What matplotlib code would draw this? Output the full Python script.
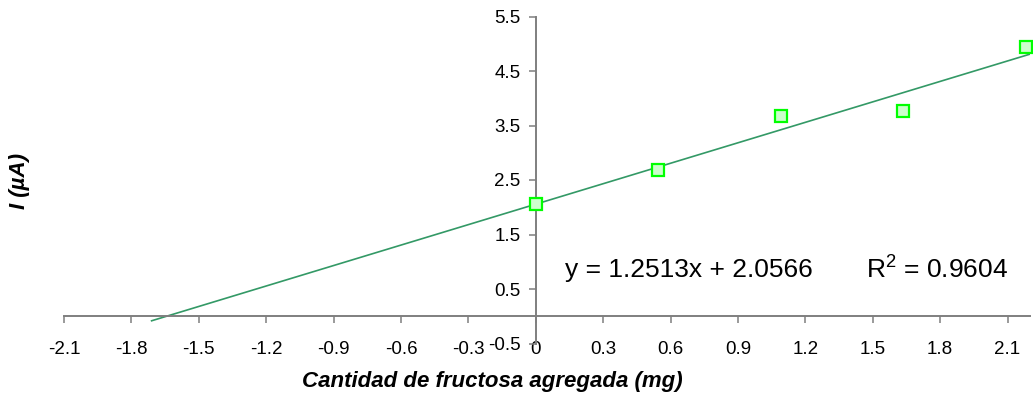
import matplotlib
matplotlib.use("Agg")
import matplotlib.pyplot as plt
import numpy as np

plt.rcParams['font.family'] = ['Liberation Sans', 'DejaVu Sans']
plt.rcParams['mathtext.fontset'] = 'custom'
plt.rcParams['mathtext.rm'] = 'Liberation Sans'

# Added fructose (mg) and measured current (µA)
fructose_mg = [0.0, 0.545, 1.09, 1.635, 2.18]
current_uA = [2.055, 2.68, 3.67, 3.77, 4.94]

# Linear trendline reported for the series
slope = 1.2513
intercept = 2.0566
r_squared = 0.9604
trend_start, trend_end = -1.71, 2.2

x_ticks = [-2.1, -1.8, -1.5, -1.2, -0.9, -0.6, -0.3, 0, 0.3, 0.6, 0.9, 1.2, 1.5, 1.8, 2.1]
x_tick_labels = ['-2.1', '-1.8', '-1.5', '-1.2', '-0.9', '-0.6', '-0.3', '0',
                 '0.3', '0.6', '0.9', '1.2', '1.5', '1.8', '2.1']
y_ticks = [-0.5, 0.5, 1.5, 2.5, 3.5, 4.5, 5.5]
y_tick_labels = ['-0.5', '0.5', '1.5', '2.5', '3.5', '4.5', '5.5']

W, H = 1033, 401
fig = plt.figure(figsize=(W / 100, H / 100), dpi=100)
ax = fig.add_axes([64 / W, (H - 343.5) / H, 966 / W, 327 / H])

ax.set_xlim(-2.1, 2.2)
ax.set_ylim(-0.5, 5.5)

axis_grey = '#7f7f7f'
for side in ('top', 'right'):
    ax.spines[side].set_visible(False)
ax.spines['left'].set_position(('data', 0))
ax.spines['bottom'].set_position(('data', 0))
for side in ('left', 'bottom'):
    ax.spines[side].set_color(axis_grey)
    ax.spines[side].set_linewidth(1.4)

ax.set_xticks(x_ticks)
ax.set_xticklabels(x_tick_labels)
ax.set_yticks(y_ticks)
ax.set_yticklabels(y_tick_labels)
ax.tick_params(axis='x', direction='out', length=5, width=1.1, color=axis_grey,
               pad=13, labelsize=13.5)
ax.tick_params(axis='y', direction='out', length=5, width=1.1, color=axis_grey,
               pad=6, labelsize=13.5)

# Trendline
tx = np.array([trend_start, trend_end])
ax.plot(tx, slope * tx + intercept, color='#339966', lw=1.2, zorder=2)

# Measured points
ax.plot(fructose_mg, current_uA, linestyle='none', marker='s', markersize=8.5,
        markerfacecolor='#CCFFCC', markeredgecolor='#00FF00', markeredgewidth=1.6,
        clip_on=False, zorder=3)

ax.text(0.129, 0.844, f'y = {slope:.4f}x + {intercept:.4f}', fontsize=19,
        ha='left', va='center')
ax.text(1.469, 0.844, r'R$\mathregular{^2}$' + f' = {r_squared:.4f}', fontsize=19,
        ha='left', va='center')

fig.text(20 / W, 1 - 181 / H, 'I (µA)', rotation=90, fontsize=16,
         fontweight='bold', fontstyle='italic', ha='center', va='center')
fig.text(492 / W, 1 - 382 / H, 'Cantidad de fructosa agregada (mg)', fontsize=16,
         fontweight='bold', fontstyle='italic', ha='center', va='center')

fig.savefig('out.png', dpi=100)
